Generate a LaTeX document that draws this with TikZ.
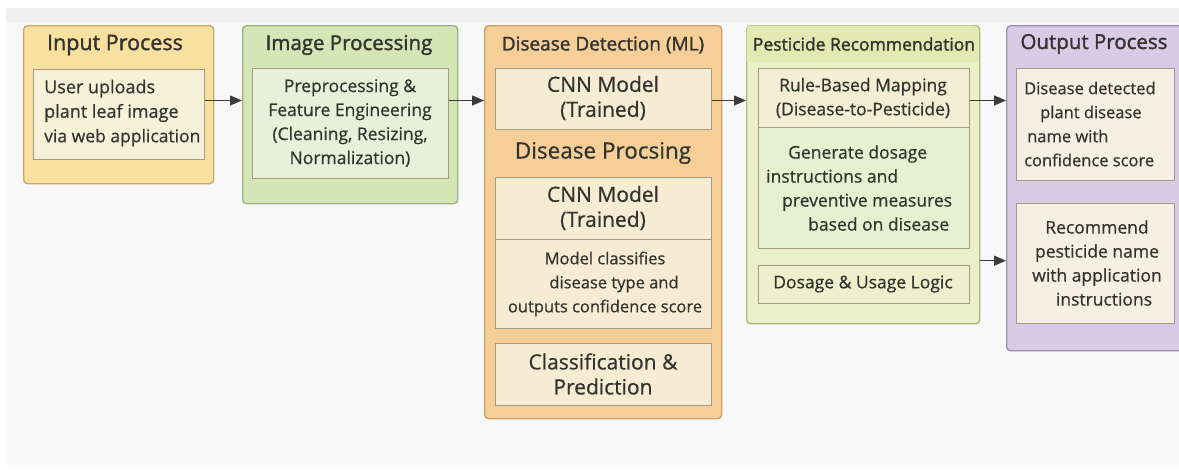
\documentclass[tikz,border=0pt]{standalone}
\usepackage{fontspec}
\setmainfont{Open Sans}
\newfontfamily\tfont{Open Sans}[FakeBold=1.6]
\newfontfamily\bfont{Open Sans}[FakeBold=0.7]
\usetikzlibrary{arrows.meta}
\definecolor{txt}{HTML}{34342F}
\definecolor{arrc}{HTML}{3C3C3C}
\definecolor{bgc}{HTML}{F8F8F8}
\definecolor{bgtop}{HTML}{F0F0F0}
\definecolor{inpF}{HTML}{F7E0A0}
\definecolor{inpD}{HTML}{C9A96A}
\definecolor{imgF}{HTML}{D4E5B6}
\definecolor{imgD}{HTML}{9DB282}
\definecolor{disF}{HTML}{F6CF98}
\definecolor{disD}{HTML}{CDA066}
\definecolor{pesF}{HTML}{EAF0C8}
\definecolor{pesT}{HTML}{E2EAB2}
\definecolor{pesD}{HTML}{A9B87A}
\definecolor{outF}{HTML}{D9CAE6}
\definecolor{outD}{HTML}{9C8BB3}
\definecolor{creamA}{HTML}{F8F1DA}
\definecolor{greenI}{HTML}{E9F0DA}
\definecolor{creamD}{HTML}{F6EBD3}
\definecolor{creamP}{HTML}{F4EFD4}
\definecolor{greenP}{HTML}{E8F0D2}
\definecolor{dosP}{HTML}{EDF0CC}
\definecolor{creamO}{HTML}{F6EFE4}
\definecolor{ibord}{HTML}{A39C80}
\begin{document}
\begin{tikzpicture}[x=1pt,y=-1pt,
  obox/.style={draw, line width=1.4pt, rounded corners=4pt, anchor=north west, inner sep=0pt},
  ibox/.style={draw=ibord, line width=1pt, anchor=north west, inner sep=0pt},
  ttl/.style={text=txt, inner sep=0pt, font=\tfont\fontsize{20.5}{22}\selectfont},
  sttl/.style={text=txt, inner sep=0pt, font=\tfont\fontsize{17}{20}\selectfont},
  body/.style={text=txt, inner sep=0pt, align=center, font=\bfont\fontsize{17.5}{24}\selectfont},
  big/.style={text=txt, inner sep=0pt, align=center, font=\bfont\fontsize{21}{25}\selectfont},
  arr/.style={-{Triangle[length=12pt,width=10pt]}, line width=1.3pt, draw=arrc}]
\useasboundingbox (0,0) rectangle (1179,472);
\fill[white] (0,0) rectangle (1179,472);
\fill[bgc] (6,8) rectangle (1179,465);
\fill[bgtop] (6,8) rectangle (1179,22);

% outer boxes
\node[obox, draw=inpD, fill=inpF, minimum width=190pt, minimum height=158pt] (inp) at (23,25) {};
\node[obox, draw=imgD, fill=imgF, minimum width=215pt, minimum height=178pt] (img) at (242,25) {};
\node[obox, draw=disD, fill=disF, minimum width=237pt, minimum height=393pt] (dis) at (484,25) {};
\node[obox, draw=pesD, fill=pesF, minimum width=233pt, minimum height=298pt] (pes) at (746,25) {};
\fill[pesT, rounded corners=4pt] (746.7,62) -- (746.7,25.7) -- (978.3,25.7) [sharp corners] -- (978.3,62) -- cycle;
\node[obox, draw=outD, fill=outF, minimum width=185pt, minimum height=325pt] (out) at (1006,25) {};

% titles
\node[ttl, font=\tfont\fontsize{21.5}{22}\selectfont] (tinp) at (115,45) {Input Process};
\node[ttl] (timg) at (349,45) {Image Processing};
\node[sttl, font=\tfont\fontsize{19}{20}\selectfont] (tdis) at (603,45) {Disease Detection (ML)};
\node[sttl, font=\tfont\fontsize{17.5}{20}\selectfont] (tpes) at (864,44) {Pesticide Recommendation};
\node[ttl] (tout) at (1094,44) {Output Process};
\node[big, font=\bfont\fontsize{22.5}{26}\selectfont] (tproc) at (603,153) {Disease Procsing};

% inner boxes
\node[ibox, fill=creamA, minimum width=171pt, minimum height=90pt] (inpI) at (33,69) {};
\node[ibox, fill=greenI, minimum width=196pt, minimum height=110pt] (imgI) at (252,68) {};
\node[ibox, fill=creamD, minimum width=216pt, minimum height=61pt] (disA) at (495,68) {};
\node[ibox, fill=creamD, minimum width=216pt, minimum height=62pt] (disB) at (495,177) {};
\node[ibox, fill=creamD, minimum width=216pt, minimum height=89pt] (disC) at (495,239) {};
\node[ibox, fill=creamD, minimum width=216pt, minimum height=62pt] (disD) at (495,343) {};
\node[ibox, fill=creamP, minimum width=211pt, minimum height=59pt] (pesA) at (758,68) {};
\node[ibox, fill=greenP, minimum width=211pt, minimum height=121pt] (pesB) at (758,127) {};
\node[ibox, fill=dosP, minimum width=211pt, minimum height=38pt] (pesC) at (758,265) {};
\node[ibox, fill=creamO, minimum width=158pt, minimum height=112pt] (outA) at (1016,68) {};
\node[ibox, fill=creamO, minimum width=158pt, minimum height=120pt] (outB) at (1016,203) {};

% texts
\node[body, align=left, anchor=west, font=\bfont\fontsize{18}{24.5}\selectfont] (xinp) at (44,113) {User uploads\\plant leaf image\\{\fontsize{17.5}{24}\selectfont via web application}};
\node[body] (ximg) at (350,123) {Preprocessing \&\\Feature Engineering\\(Cleaning, Resizing,\\Normalization)};
\node[big] (xdisA) at (603,98) {CNN Model\\(Trained)};
\node[big] (xdisB) at (603,208) {CNN Model\\(Trained)};
\node[body, font=\bfont\fontsize{16.5}{24}\selectfont] (xdisC) at (605,284) {Model classifies\\\hspace*{18pt}disease type and\\outputs confidence score};
\node[big] (xdisD) at (603,374) {Classification \&\\Prediction};
\node[body] (xpesA) at (863,98) {Rule-Based Mapping\\(Disease-to-Pesticide)};
\node[body, align=left, anchor=west] (xpesB) at (766,188) {\hspace*{22pt}Generate dosage\\instructions and\\\hspace*{16pt}preventive measures\\\hspace*{42pt}based on disease};
\node[body] (xpesC) at (863,284) {Dosage \& Usage Logic};
\node[body, align=left, anchor=west, font=\bfont\fontsize{16.5}{24}\selectfont] (xoutA) at (1024,124) {Disease detected\\\hspace*{16pt}plant disease\\\hspace*{3pt}name with\\confidence score};
\node[body] (xoutB) at (1097,263) {Recommend\\pesticide name\\with application\\\hspace*{14pt}instructions};

% connectors
\draw[arr] ([yshift=14pt]inpI.east) coordinate (a1) -- (a1 -| img.west);
\draw[arr] ([yshift=23pt]imgI.east) coordinate (a2) -- (a2 -| dis.west);
\draw[arr] ([yshift=-1.5pt]disA.east) coordinate (a3) -- (a3 -| pes.west);
\draw[arr] ([yshift=-2.5pt]pesA.east) coordinate (a4) -- (a4 -| out.west);
\draw[arr] ([yshift=-86pt]pes.east) coordinate (a5) -- (a5 -| out.west);
\end{tikzpicture}
\end{document}
